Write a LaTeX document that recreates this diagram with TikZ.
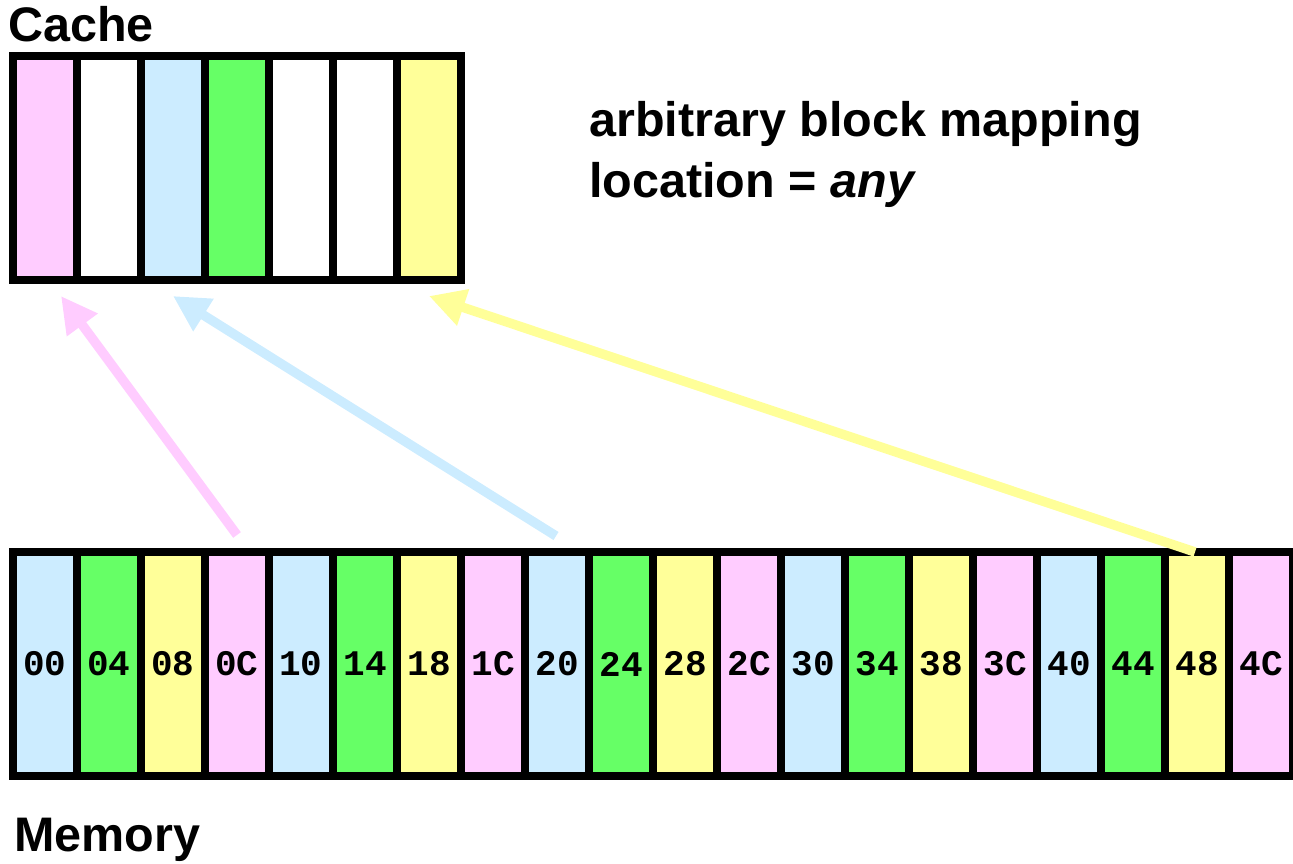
\documentclass[tikz,border=0pt]{standalone}
\usepackage{fontspec}
\setmainfont{Liberation Sans}
\setmonofont{Liberation Mono}
\usetikzlibrary{arrows.meta,calc}
\definecolor{cpink}{RGB}{255,204,255}
\definecolor{cblue}{RGB}{204,236,255}
\definecolor{cgreen}{RGB}{102,255,102}
\definecolor{cyellow}{RGB}{255,255,153}
\begin{document}
\begin{tikzpicture}[x=1pt,y=-1pt,
  cell/.style={draw=black,line width=8pt,minimum width=64pt,minimum height=224pt,inner sep=0pt,anchor=center},
  addr/.style={font=\fontsize{36}{40}\selectfont\ttfamily\bfseries},
  heading/.style={font=\fontsize{48.5}{54}\selectfont\bfseries,inner sep=0pt,anchor=base west},
  maparrow/.style={line width=9.5pt,-{Triangle[length=36pt,width=36pt]}}]
\useasboundingbox (0,0) rectangle (1293,864);

% cache: seven blocks
\foreach \i/\c in {0/cpink,1/white,2/cblue,3/cgreen,4/white,5/white,6/cyellow}
  \node[cell,fill=\c] (c\i) at (45+64*\i,168) {};

% memory: twenty blocks, colour cycles with the address
\foreach \i/\c/\a in {0/cblue/00,1/cgreen/04,2/cyellow/08,3/cpink/0C,
    4/cblue/10,5/cgreen/14,6/cyellow/18,7/cpink/1C,
    8/cblue/20,9/cgreen/24,10/cyellow/28,11/cpink/2C,
    12/cblue/30,13/cgreen/34,14/cyellow/38,15/cpink/3C,
    16/cblue/40,17/cgreen/44,18/cyellow/48,19/cpink/4C}
  \node[cell,fill=\c,addr] (m\i) at (45+64*\i,664) {\a};

% mapping arrows from memory blocks to cache slots
\draw[maparrow,cpink] ($(m3.north)+(0,-13)$) -- ($(c0.south)+(16,12)$);
\draw[maparrow,cblue] ($(m8.north)+(-1,-12)$) -- ($(c2.south)+(0,12)$);
\draw[maparrow,cyellow] ($(m18.north)+(-2,4)$) -- ($(c6.south)+(0,12)$);

% labels
\node[heading] (cachelbl) at (8,42) {Cache};
\node[heading] (memlbl) at (14,851) {Memory};
\node[heading] (note1) at (589,137) {arbitrary block mapping};
\node[heading] (note2) at (589,197) {location = \textit{any}};
\end{tikzpicture}
\end{document}
